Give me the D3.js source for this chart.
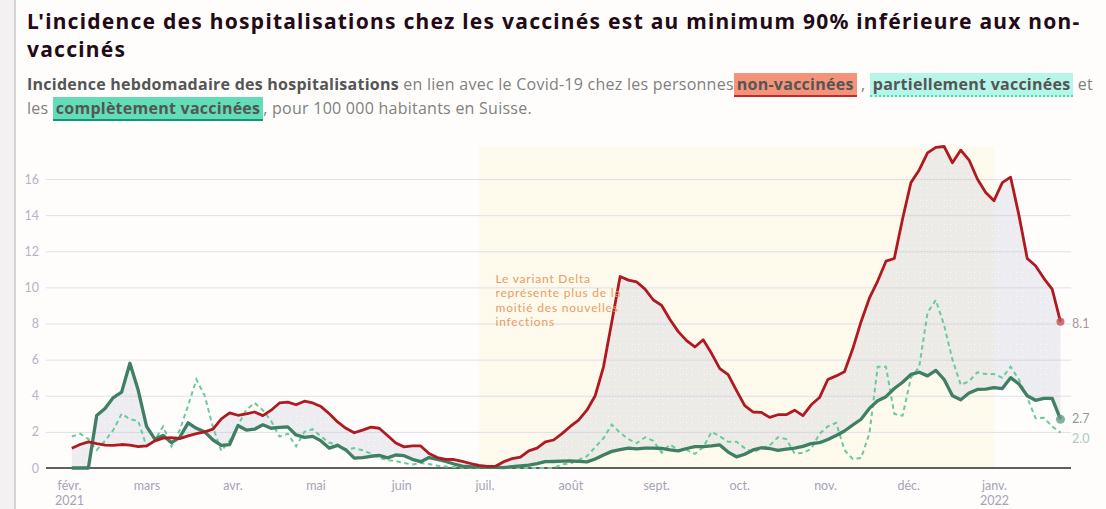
<!DOCTYPE html>
<html><head><meta charset="utf-8">
<script src="https://cdn.jsdelivr.net/npm/d3@7"></script>
<style>
html,body{margin:0;padding:0;background:#fffdfc;width:1106px;height:509px;overflow:hidden;}
#strip{position:absolute;left:0;top:0;width:14px;height:509px;background:#f3f1f1;border-right:2px solid #d6d4d6;}
#title{position:absolute;left:27px;top:7px;font:700 21px 'Noto Sans';letter-spacing:1.25px;line-height:28px;color:#230a16;white-space:nowrap;}
#sub{position:absolute;left:27px;top:72px;font:400 16px 'Open Sans';letter-spacing:0.25px;line-height:24px;color:#808080;white-space:nowrap;}
#sub b{color:#555;font-weight:700;}
.hl{font-weight:700;color:#555;padding:0 3px;}
.nv{background:#f4937a;border-bottom:2px solid #c8282c;}
.pv{background:#b5f6e8;border-bottom:2px dotted #3fe0b2;}
.cv{background:#63dcb8;border-bottom:2px solid #10977a;}
svg{position:absolute;left:0;top:0;}
</style></head>
<body>
<div id="strip"></div>
<div id="title">L'incidence des hospitalisations chez les vaccinés est au minimum 90% inférieure aux non-<br>vaccinés</div>
<div id="sub"><b>Incidence hebdomadaire des hospitalisations</b> en lien avec le Covid-19 chez les personnes<span class="hl nv">non-vaccinées</span> , <span class="hl pv">partiellement vaccinées</span> et<br>les <span class="hl cv">complètement vaccinées</span>, pour 100 000 habitants en Suisse.</div>
<svg id="chart" width="1106" height="509"></svg>
<script>
// ---- data ----
const startDate = "2021-02-02";   // first observation, one every 3 days
const stepDays = 3;
const nonVaccinated = [1.09,1.3,1.45,1.35,1.27,1.25,1.3,1.27,1.18,1.22,
1.5,1.65,1.68,1.63,1.78,1.9,2.0,2.15,2.72,3.05,
2.92,3.0,3.1,2.9,3.2,3.6,3.65,3.5,3.7,3.6,
3.4,3.0,2.55,2.2,1.95,2.1,2.26,2.2,1.8,1.38,
1.17,1.22,1.22,0.8,0.58,0.48,0.47,0.37,0.25,0.14,
0.09,0.1,0.35,0.52,0.6,0.95,1.1,1.45,1.55,1.9,
2.3,2.65,3.2,4.0,5.6,8.1,10.6,10.4,10.3,9.9,
9.3,9.0,8.22,7.55,7.05,6.7,7.1,6.35,5.5,5.17,
4.3,3.45,3.1,3.08,2.8,2.95,2.95,3.2,2.9,3.5,
3.9,4.9,5.1,5.33,6.6,8.1,9.4,10.35,11.45,11.6,
13.8,15.8,16.5,17.45,17.75,17.8,16.9,17.6,17.05,16.0,
15.25,14.8,15.8,16.1,14.0,11.6,11.2,10.5,9.9,8.1];
const fullyVaccinated = [0,0,0,2.9,3.3,3.9,4.2,5.8,4.3,2.3,
1.6,1.8,1.4,1.7,2.5,2.2,2.0,1.55,1.25,1.3,
2.35,2.1,2.15,2.39,2.2,2.25,2.28,1.83,1.7,1.75,
1.5,1.1,1.25,1.0,0.55,0.58,0.65,0.7,0.56,0.72,
0.68,0.48,0.35,0.58,0.48,0.36,0.22,0.1,0.07,0.06,
0.04,0.03,0.02,0.08,0.12,0.16,0.24,0.35,0.36,0.38,
0.4,0.37,0.34,0.5,0.72,0.92,1.02,1.1,1.06,1.1,
1.1,1.08,1.0,0.95,1.08,1.18,1.18,1.22,1.28,0.88,
0.62,0.76,1.0,1.12,1.08,0.98,1.05,1.1,1.2,1.35,
1.4,1.58,1.8,2.05,2.38,2.7,3.3,3.72,3.95,4.4,
4.75,5.18,5.3,5.1,5.4,4.9,4.0,3.78,4.15,4.35,
4.37,4.45,4.4,5.0,4.65,4.0,3.75,3.85,3.85,2.7];
const partiallyVaccinated = [1.74,1.9,1.6,1.0,1.5,2.1,3.0,2.7,2.6,1.2,
1.55,2.3,1.2,2.1,3.45,4.9,4.0,2.25,0.95,1.5,
2.35,3.22,3.6,3.2,2.6,1.74,1.9,1.2,2.0,2.15,
1.75,1.4,1.3,1.02,1.1,0.98,0.8,0.56,0.43,0.38,
0.28,0.2,0.28,0.22,0.13,0.08,0.05,0.02,0,0,
0,0,0,0,0,0,0,0,0,0.2,
0.25,0.45,0.65,1.15,1.65,2.4,1.95,1.6,1.38,1.7,
1.5,0.85,1.3,1.0,1.0,0.78,1.15,2.0,1.75,1.45,
1.45,1.1,0.85,1.1,1.25,1.7,1.6,0.8,0.83,1.05,
1.9,2.3,2.5,1.0,0.5,0.55,1.9,5.6,5.6,3.0,
2.9,5.0,5.6,8.6,9.3,7.9,6.0,4.6,4.8,5.3,
5.2,5.2,5.0,5.6,4.9,3.9,2.75,2.78,2.3,1.96];
const monthTicks = ["2021-02-01","2021-03-01","2021-04-01","2021-05-01","2021-06-01","2021-07-01","2021-08-01","2021-09-01","2021-10-01","2021-11-01","2021-12-01","2022-01-01"];
const monthLabels = ["févr.","mars","avr.","mai","juin","juil.","août","sept.","oct.","nov.","déc.","janv."];
const yearLabels = ["2021","","","","","","","","","","","2022"];
const yTicks = [0,2,4,6,8,10,12,14,16];
const deltaPeriod = ["2021-06-29","2022-01-01"];
const annotationDate = "2021-07-05";
const annotationValue = 10.25;
const annotationLines = ["Le variant Delta","représente plus de la","moitié des nouvelles","infections"];

// ---- build ----
const parse = d3.utcParse("%Y-%m-%d");
const t0 = parse(startDate);
const dates = nonVaccinated.map((_, i) => d3.utcDay.offset(t0, i * stepDays));
const rows = dates.map((d, i) => ({date: d, nv: nonVaccinated[i], cv: fullyVaccinated[i], pv: partiallyVaccinated[i]}));

const svg = d3.select("#chart");
const left = 46, right = 1071, base = 468;
const x = d3.scaleUtc().domain([parse("2021-02-01"), parse("2022-01-01")]).range([69, 994]);
const yMax = d3.max(nonVaccinated);
const y = d3.scaleLinear().domain([0, 16]).range([base, 179]);

const defs = svg.append("defs");
const pat = defs.append("pattern").attr("id","dots").attr("width",6).attr("height",6).attr("patternUnits","userSpaceOnUse");
pat.append("rect").attr("width",6).attr("height",6).attr("fill","rgb(196,200,218)").attr("fill-opacity",0.3);
pat.append("rect").attr("x",2).attr("y",2).attr("width",1).attr("height",1).attr("fill","#fff").attr("fill-opacity",0.7);
const ypat = defs.append("pattern").attr("id","ydots").attr("width",4).attr("height",4).attr("patternUnits","userSpaceOnUse");
ypat.append("rect").attr("width",4).attr("height",4).attr("fill","#fefaee");
ypat.append("rect").attr("x",1).attr("y",1).attr("width",1).attr("height",1).attr("fill","#fbf3dc");

// Delta band
svg.append("rect")
  .attr("x", x(parse(deltaPeriod[0])))
  .attr("y", y(yMax))
  .attr("width", x(parse(deltaPeriod[1])) - x(parse(deltaPeriod[0])))
  .attr("height", base - y(yMax))
  .attr("fill", "url(#ydots)");

// y axis + grid
const yAxis = svg.append("g").attr("transform", `translate(${left},0)`)
  .call(d3.axisLeft(y).tickValues(yTicks).tickSize(-(right - left)).tickPadding(7).tickFormat(d3.format("d")));
yAxis.select(".domain").remove();
yAxis.selectAll(".tick line").attr("stroke", "#dfdfe8").attr("stroke-width", 1);
yAxis.selectAll(".tick text").attr("fill", "#b4b4c4").style("font", "12.5px Lato");
yAxis.selectAll(".tick").filter(d => d === 0).select("line").attr("stroke", "none");

// x axis
const xAxis = svg.append("g").attr("transform", `translate(0,${base})`)
  .call(d3.axisBottom(x).tickValues(monthTicks.map(parse)).tickSize(0).tickPadding(13)
    .tickFormat((d, i) => monthLabels[i]));
xAxis.select(".domain").remove();
xAxis.selectAll(".tick text").attr("fill", "#a4a4b4").style("font", "12.5px Lato");
xAxis.selectAll(".tick text").each(function(d, i) {
  if (yearLabels[i]) {
    d3.select(this).append("tspan").attr("x", 0).attr("dy", "1.2em").text(yearLabels[i]);
  }
});

const curve = d3.curveLinear;
// gap area
svg.append("path").datum(rows)
  .attr("d", d3.area().curve(curve).x(d => x(d.date)).y0(d => y(d.cv)).y1(d => y(d.nv)))
  .attr("fill", "url(#dots)");

// baseline
svg.append("line").attr("x1", left).attr("x2", right).attr("y1", y(0)).attr("y2", y(0))
  .attr("stroke", "#2a2a2a").attr("stroke-width", 1.3);

// lines
svg.append("path").datum(rows)
  .attr("d", d3.line().curve(curve).x(d => x(d.date)).y(d => y(d.pv)))
  .attr("fill", "none").attr("stroke", "#6acb9a").attr("stroke-width", 2).attr("stroke-dasharray", "4.5,3.5");
svg.append("path").datum(rows)
  .attr("d", d3.line().curve(curve).x(d => x(d.date)).y(d => y(d.cv)))
  .attr("fill", "none").attr("stroke", "#3f7f64").attr("stroke-width", 3.3).attr("stroke-linejoin", "round");
svg.append("path").datum(rows)
  .attr("d", d3.line().curve(curve).x(d => x(d.date)).y(d => y(d.nv)))
  .attr("fill", "none").attr("stroke", "#b0191f").attr("stroke-width", 2.8).attr("stroke-linejoin", "round");

// end markers + labels
const last = rows[rows.length - 1];
svg.append("circle").attr("cx", x(last.date)).attr("cy", y(last.nv)).attr("r", 4).attr("fill", "#c2505a").attr("fill-opacity", 0.8);
svg.append("circle").attr("cx", x(last.date)).attr("cy", y(last.cv)).attr("r", 4.5).attr("fill", "#6a9a86").attr("fill-opacity", 0.8);
const fmt = d3.format(".1f");
const endLabels = [
  {v: last.nv, dy: 6, color: "#a8949c"},
  {v: last.cv, dy: 4, color: "#8c9c98"},
  {v: last.pv, dy: 10, color: "#a4cdbd"}
];
svg.selectAll("text.endlab").data(endLabels).join("text").attr("class", "endlab")
  .attr("x", right + 1).attr("y", d => y(d.v) + d.dy)
  .attr("fill", d => d.color).style("font", "12.5px Lato")
  .text(d => fmt(d.v));

// annotation
const annX = x(parse(annotationDate));
svg.selectAll("text.ann").data(annotationLines).join("text").attr("class", "ann")
  .attr("x", annX).attr("y", (d, i) => y(annotationValue) + i * 14.5)
  .attr("fill", "#ec9a62").style("font", "12px Lato").style("letter-spacing", "0.8px")
  .text(d => d);
</script>
</body></html>
